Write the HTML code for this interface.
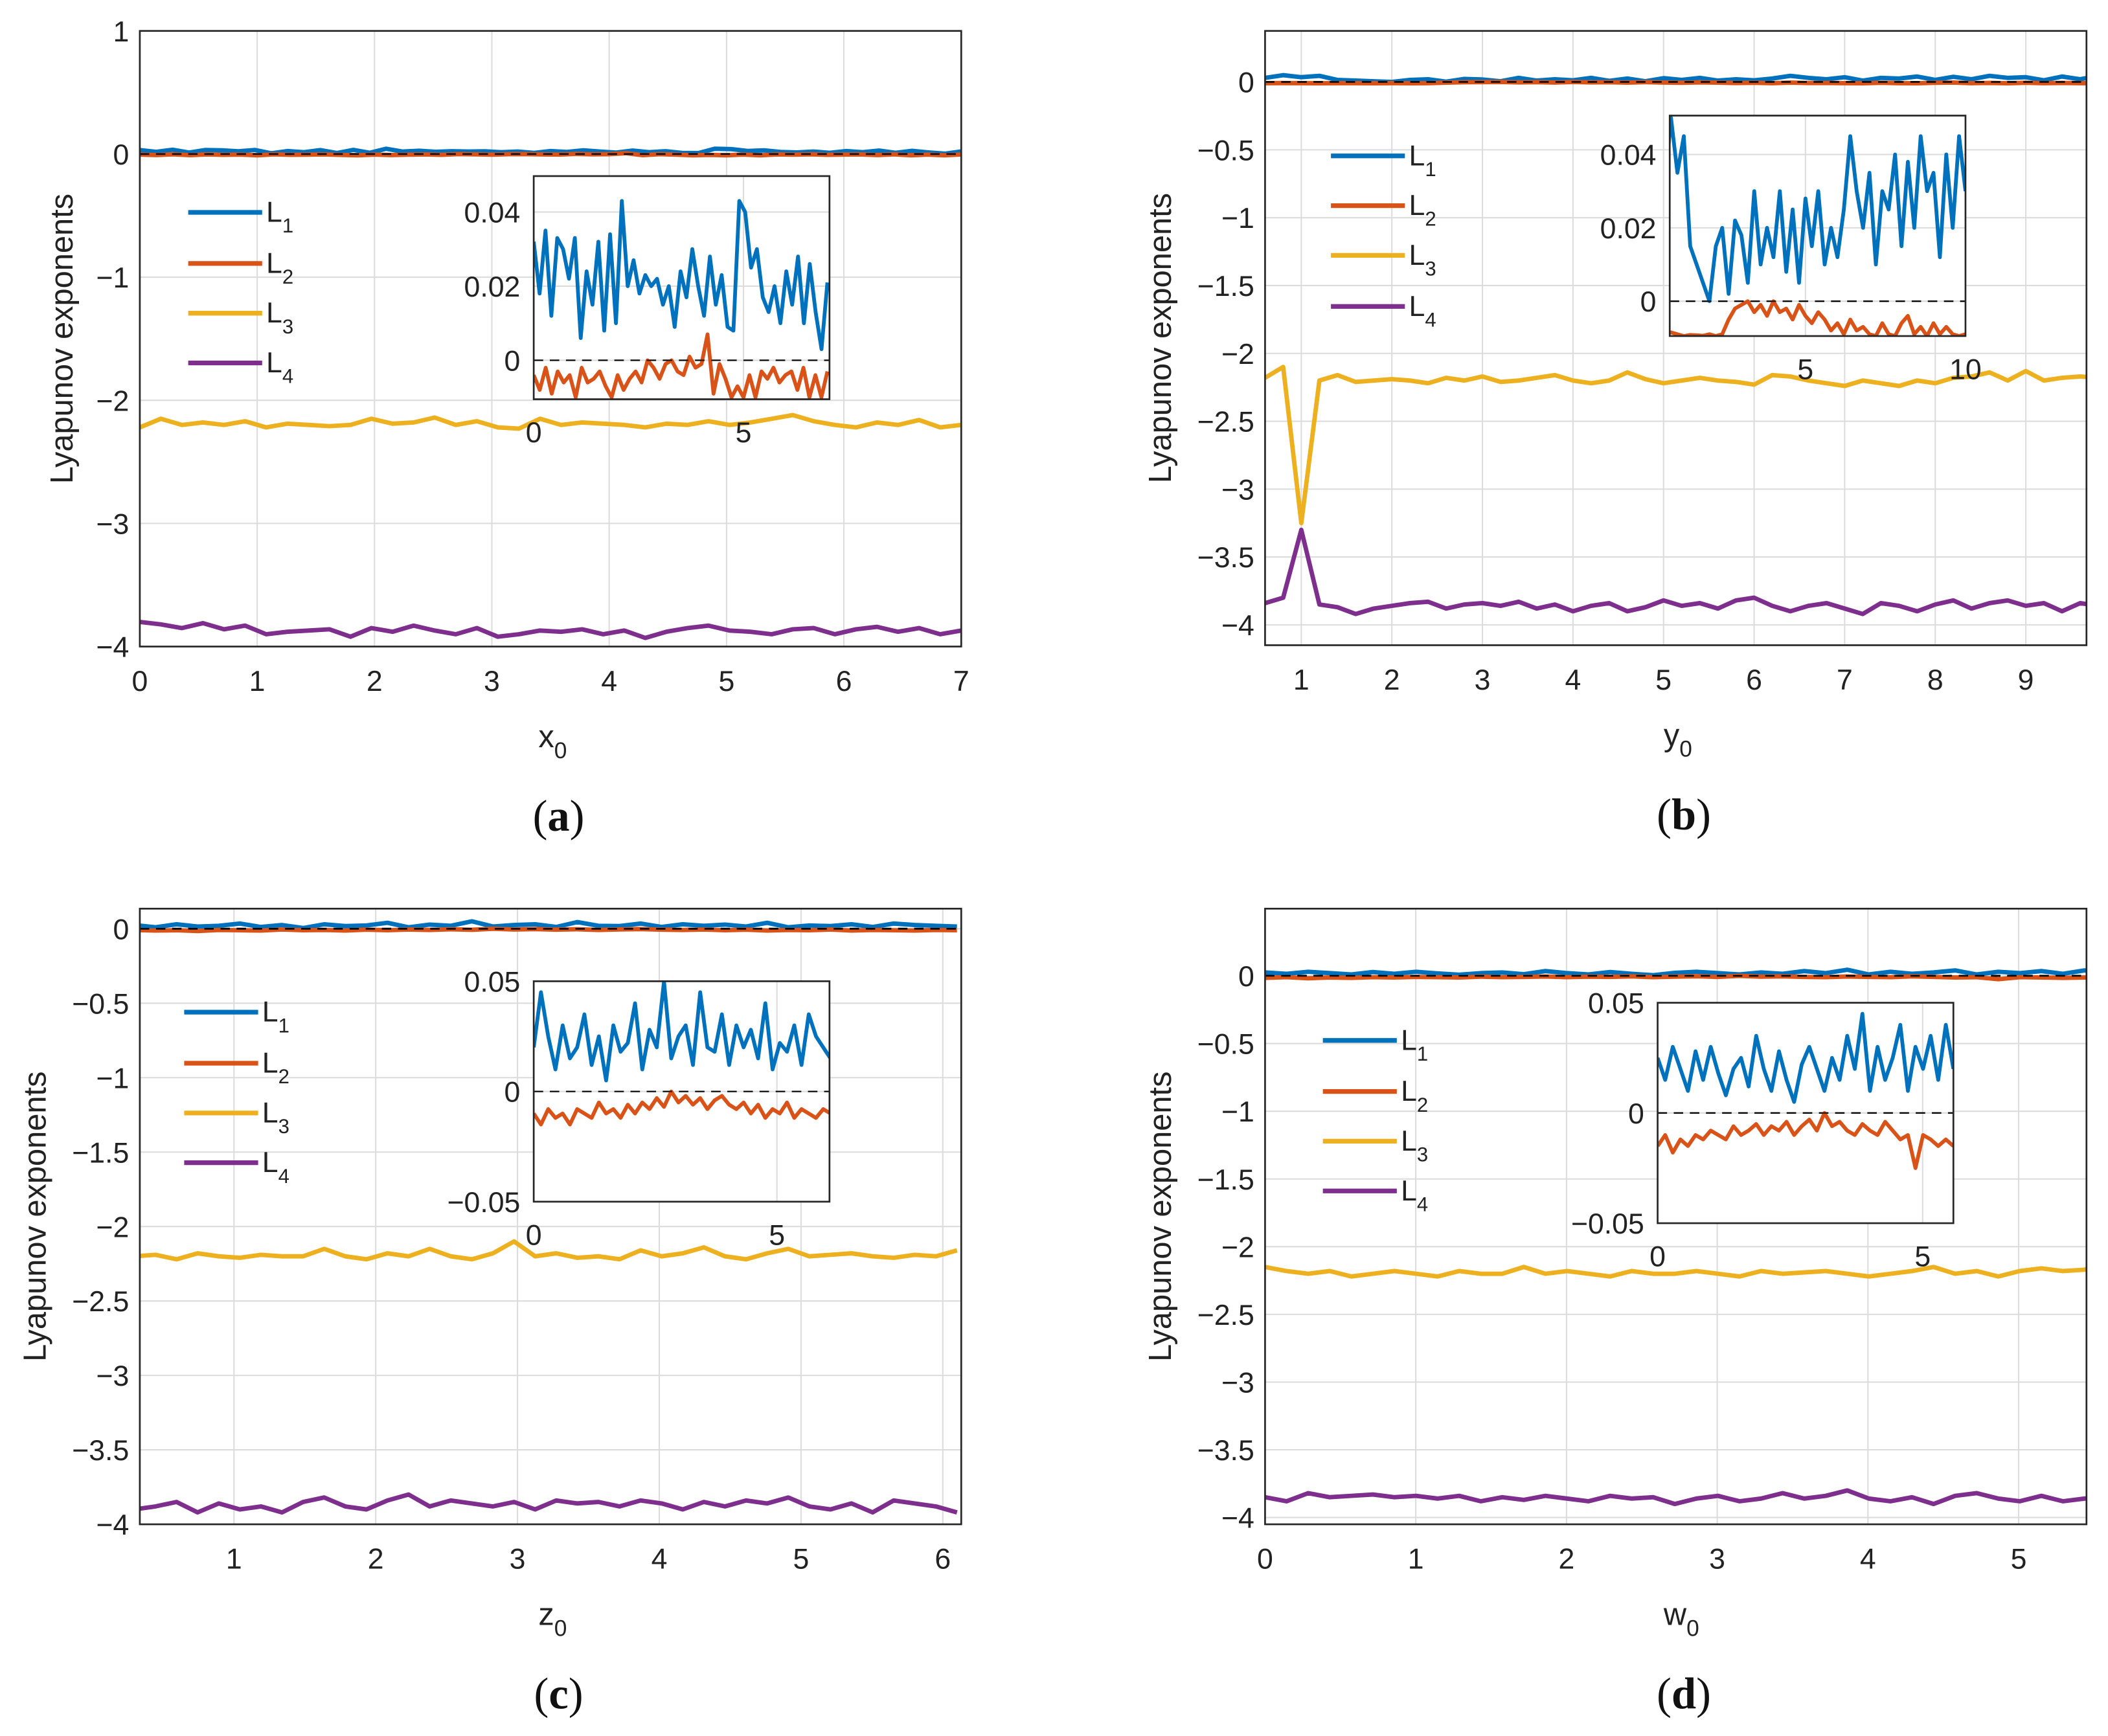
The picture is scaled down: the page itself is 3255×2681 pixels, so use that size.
<!DOCTYPE html>
<html><head><meta charset="utf-8"><style>
html,body{margin:0;padding:0;background:#fff;}
svg{display:block;font-family:"Liberation Sans",Arial,sans-serif;}
</style></head><body>
<svg id="fig" xmlns="http://www.w3.org/2000/svg" width="3255" height="2681" viewBox="0 0 1568 1291.5"></svg>
<script>
// ---------- data ----------
const seriesNames = ["L1","L2","L3","L4"];
const colors = ["#0072BD","#D95319","#EDB120","#7E2F8E"];

// panel (a): x0 from 0 to 7
const a_xRange = [0, 7];
const a_L1 = [0.032,0.018,0.035,0.012,0.033,0.03,0.022,0.033,0.006,0.024,0.015,0.032,0.008,0.034,0.01,0.043,0.02,0.027,0.018,0.023,0.02,0.022,0.015,0.02,0.009,0.024,0.017,0.03,0.02,0.012,0.028,0.015,0.023,0.009,0.008,0.043,0.04,0.025,0.03,0.017,0.013,0.02,0.01,0.024,0.015,0.028,0.01,0.026,0.013,0.003,0.021];
const a_L2 = [-0.004,-0.008,-0.002,-0.009,-0.003,-0.006,-0.004,-0.01,-0.002,-0.006,-0.005,-0.003,-0.007,-0.01,-0.004,-0.008,-0.005,-0.003,-0.006,0.0,-0.002,-0.005,-0.001,0.0,-0.003,-0.004,0.001,-0.002,-0.001,0.007,-0.009,-0.001,-0.005,-0.01,-0.007,-0.01,-0.004,-0.01,-0.003,-0.005,-0.002,-0.006,-0.004,-0.003,-0.008,-0.002,-0.01,-0.004,-0.01,-0.003];
const a_L3 = [-2.22,-2.15,-2.2,-2.18,-2.2,-2.17,-2.22,-2.19,-2.2,-2.21,-2.2,-2.15,-2.19,-2.18,-2.14,-2.2,-2.17,-2.22,-2.23,-2.15,-2.2,-2.18,-2.19,-2.2,-2.22,-2.19,-2.2,-2.17,-2.2,-2.18,-2.15,-2.12,-2.17,-2.2,-2.22,-2.18,-2.2,-2.16,-2.22,-2.2];
const a_L4 = [-3.8,-3.82,-3.85,-3.81,-3.86,-3.83,-3.9,-3.88,-3.87,-3.86,-3.92,-3.85,-3.88,-3.83,-3.87,-3.9,-3.85,-3.92,-3.9,-3.87,-3.88,-3.86,-3.9,-3.87,-3.93,-3.88,-3.85,-3.83,-3.87,-3.88,-3.9,-3.86,-3.85,-3.9,-3.86,-3.84,-3.88,-3.85,-3.9,-3.87];

// panel (b): y0 from 0.6 to 10
const b_xRange = [0.6, 10];
const b_L1 = [0.03,0.05,0.035,0.045,0.015,0.01,0.005,0.0,0.015,0.02,0.002,0.022,0.018,0.005,0.03,0.01,0.02,0.012,0.03,0.008,0.025,0.005,0.028,0.015,0.03,0.01,0.02,0.012,0.025,0.045,0.03,0.02,0.035,0.01,0.03,0.025,0.04,0.015,0.038,0.02,0.045,0.03,0.035,0.012,0.04,0.02,0.045,0.03];
const b_L2 = [-0.009,-0.0085,-0.009,-0.0095,-0.0092,-0.0093,-0.0094,-0.009,-0.0095,-0.009,-0.005,-0.002,-0.001,0.0,-0.003,-0.001,-0.004,0.0,-0.003,-0.002,-0.005,-0.001,-0.004,-0.006,-0.003,-0.005,-0.008,-0.006,-0.009,-0.005,-0.008,-0.007,-0.009,-0.0095,-0.006,-0.009,-0.0095,-0.006,-0.004,-0.009,-0.007,-0.0095,-0.006,-0.009,-0.007,-0.009,-0.0095,-0.009];
const b_L3 = [-2.18,-2.1,-3.25,-2.2,-2.16,-2.21,-2.2,-2.19,-2.2,-2.22,-2.18,-2.2,-2.17,-2.21,-2.2,-2.18,-2.16,-2.2,-2.22,-2.2,-2.14,-2.19,-2.22,-2.2,-2.18,-2.2,-2.21,-2.23,-2.16,-2.17,-2.2,-2.22,-2.24,-2.2,-2.22,-2.24,-2.2,-2.22,-2.18,-2.17,-2.14,-2.2,-2.13,-2.2,-2.18,-2.17,-2.18,-2.18];
const b_L4 = [-3.84,-3.8,-3.3,-3.85,-3.87,-3.92,-3.88,-3.86,-3.84,-3.83,-3.88,-3.85,-3.84,-3.86,-3.83,-3.88,-3.85,-3.9,-3.86,-3.84,-3.9,-3.87,-3.82,-3.86,-3.84,-3.88,-3.82,-3.8,-3.86,-3.9,-3.86,-3.84,-3.88,-3.92,-3.84,-3.86,-3.9,-3.85,-3.82,-3.88,-3.84,-3.82,-3.86,-3.84,-3.9,-3.84,-3.86,-3.83];

// panel (c): z0 from 0 to 6.1
const c_xRange = [0, 6.1];
const c_L1 = [0.02,0.045,0.025,0.01,0.03,0.015,0.02,0.035,0.012,0.025,0.005,0.03,0.018,0.022,0.04,0.01,0.028,0.02,0.05,0.015,0.025,0.03,0.012,0.045,0.02,0.018,0.035,0.012,0.03,0.02,0.028,0.015,0.04,0.01,0.022,0.018,0.03,0.012,0.035,0.025,0.02,0.015];
const c_L2 = [-0.01,-0.015,-0.008,-0.012,-0.01,-0.015,-0.008,-0.01,-0.012,-0.005,-0.01,-0.008,-0.012,-0.006,-0.01,-0.005,-0.008,-0.003,-0.007,0.0,-0.005,-0.002,-0.006,-0.003,-0.008,-0.004,-0.002,-0.006,-0.008,-0.005,-0.01,-0.006,-0.012,-0.008,-0.01,-0.005,-0.012,-0.008,-0.01,-0.012,-0.008,-0.01];
const c_L3 = [-2.2,-2.18,-2.2,-2.19,-2.22,-2.18,-2.2,-2.21,-2.19,-2.2,-2.2,-2.15,-2.2,-2.22,-2.18,-2.2,-2.15,-2.2,-2.22,-2.18,-2.1,-2.2,-2.18,-2.21,-2.2,-2.22,-2.16,-2.2,-2.18,-2.14,-2.2,-2.22,-2.18,-2.15,-2.2,-2.19,-2.18,-2.2,-2.21,-2.19,-2.2,-2.16];
const c_L4 = [-3.9,-3.88,-3.9,-3.88,-3.85,-3.92,-3.86,-3.9,-3.88,-3.92,-3.85,-3.82,-3.88,-3.9,-3.84,-3.8,-3.88,-3.84,-3.86,-3.88,-3.85,-3.9,-3.84,-3.86,-3.85,-3.88,-3.84,-3.86,-3.9,-3.85,-3.88,-3.84,-3.86,-3.82,-3.88,-3.9,-3.86,-3.92,-3.84,-3.86,-3.88,-3.92];

// panel (d): w0 from 0 to 5.58
const d_xRange = [0, 5.58];
const d_L1 = [0.025,0.015,0.03,0.02,0.01,0.028,0.015,0.03,0.018,0.008,0.02,0.025,0.012,0.035,0.02,0.01,0.028,0.015,0.005,0.022,0.03,0.02,0.01,0.025,0.015,0.035,0.02,0.045,0.01,0.03,0.015,0.025,0.04,0.01,0.03,0.02,0.035,0.015,0.04,0.02];
const d_L2 = [-0.015,-0.01,-0.018,-0.012,-0.015,-0.01,-0.012,-0.008,-0.01,-0.012,-0.006,-0.01,-0.008,-0.005,-0.01,-0.006,-0.008,-0.004,-0.01,-0.006,-0.003,-0.008,0.0,-0.006,-0.004,-0.008,-0.01,-0.005,-0.008,-0.01,-0.004,-0.008,-0.012,-0.01,-0.025,-0.01,-0.012,-0.015,-0.012,-0.015];
const d_L3 = [-2.15,-2.18,-2.2,-2.18,-2.22,-2.2,-2.18,-2.2,-2.22,-2.18,-2.2,-2.2,-2.15,-2.2,-2.18,-2.2,-2.22,-2.18,-2.2,-2.2,-2.18,-2.2,-2.22,-2.18,-2.2,-2.19,-2.18,-2.2,-2.22,-2.2,-2.18,-2.15,-2.2,-2.18,-2.22,-2.18,-2.16,-2.18,-2.17,-2.12];
const d_L4 = [-3.85,-3.88,-3.82,-3.85,-3.84,-3.83,-3.85,-3.84,-3.86,-3.84,-3.88,-3.85,-3.87,-3.84,-3.86,-3.88,-3.84,-3.86,-3.85,-3.9,-3.86,-3.84,-3.88,-3.86,-3.82,-3.86,-3.84,-3.8,-3.86,-3.88,-3.85,-3.9,-3.84,-3.82,-3.86,-3.88,-3.84,-3.88,-3.86,-3.86];

// tick labels
const a_xTicks = [0,1,2,3,4,5,6,7];
const a_yTicks = [1,0,-1,-2,-3,-4];
const b_xTicks = [1,2,3,4,5,6,7,8,9];
const b_yTicks = [0,-0.5,-1,-1.5,-2,-2.5,-3,-3.5,-4];
const c_xTicks = [1,2,3,4,5,6];
const c_yTicks = [0,-0.5,-1,-1.5,-2,-2.5,-3,-3.5,-4];
const d_xTicks = [0,1,2,3,4,5];
const d_yTicks = [0,-0.5,-1,-1.5,-2,-2.5,-3,-3.5,-4];
const a_inXTicks = [0,5];
const a_inYTicks = [0,0.02,0.04];
const b_inXTicks = [5,10];
const b_inYTicks = [0,0.02,0.04];
const c_inXTicks = [0,5];
const c_inYTicks = [-0.05,0,0.05];
const d_inXTicks = [0,5];
const d_inYTicks = [-0.05,0,0.05];

// ---------- drawing ----------
const NS = "http://www.w3.org/2000/svg";
const svg = document.getElementById("fig");
const defs = document.createElementNS(NS,"defs");
svg.appendChild(defs);
let clipId = 0;
function el(tag, attrs, parent){
  const e = document.createElementNS(NS, tag);
  for (const k in attrs) e.setAttribute(k, attrs[k]);
  (parent||svg).appendChild(e);
  return e;
}
function fmt(v){ return (v<0 ? "\u2212" : "") + String(Math.abs(v)); }
function makeClip(b){
  const id = "clip"+(clipId++);
  const cp = el("clipPath",{id:id},defs);
  el("rect",{x:b.x0,y:b.y0,width:b.x1-b.x0,height:b.y1-b.y0},cp);
  return id;
}
function linePath(data, xr, sx, sy){
  const n = data.length;
  let d = "";
  data.forEach((v,i)=>{
    const xv = xr[0] + (xr[1]-xr[0])*i/(n-1);
    d += (i?"L":"M") + sx(xv).toFixed(2) + "," + sy(v).toFixed(2);
  });
  return d;
}
function axes(g, b, xlim, ylim, xt, yt, fs, labelOffX, labelOffY, name){
  const sx = v => b.x0 + (v-xlim[0])/(xlim[1]-xlim[0])*(b.x1-b.x0);
  const sy = v => b.y1 - (v-ylim[0])/(ylim[1]-ylim[0])*(b.y1-b.y0);
  el("rect",{x:b.x0,y:b.y0,width:b.x1-b.x0,height:b.y1-b.y0,fill:"#fff"},g);
  const grid = el("g",{stroke:"#dcdcdc","stroke-width":1},g);
  
  
  xt.forEach(v=>{ const x=sx(v); if(x>b.x0+0.5&&x<b.x1-0.5) el("line",{x1:x,x2:x,y1:b.y0,y2:b.y1},grid);});
  yt.forEach(v=>{ const y=sy(v); if(y>b.y0+0.5&&y<b.y1-0.5) el("line",{x1:b.x0,x2:b.x1,y1:y,y2:y},grid);});
  const xl = el("g",{"font-size":fs,fill:"#222","text-anchor":"middle"},g);
  
  
  xt.forEach(v=>{ const t=el("text",{x:sx(v),y:b.y1+labelOffX},xl); t.textContent=fmt(v); });
  const yl = el("g",{"font-size":fs,fill:"#222","text-anchor":"end"},g);
  
  
  yt.forEach(v=>{ const t=el("text",{x:b.x0-labelOffY,y:sy(v)+fs*0.36},yl); t.textContent=fmt(v); });
  return {sx, sy};
}
function panel(p){
  const g = el("g",{});
  
  
  const b = p.box;
  const {sx, sy} = axes(g, b, p.xlim, p.ylim, p.xt, p.yt, 21.5, 33, 8, 'panel-'+p.tag);
  const clip = makeClip(b);
  const lines = el("g",{"clip-path":"url(#"+clip+")",fill:"none","stroke-linejoin":"round"},g);
  el("line",{x1:b.x0,x2:b.x1,y1:sy(0),y2:sy(0),stroke:"#000","stroke-width":1.5,"stroke-dasharray":"7,5"},lines);
  p.series.forEach((s,i)=>{
    const path = el("path",{d:linePath(s,p.xRange,sx,sy),stroke:colors[i],"stroke-width":3.3},lines);
    
    
  });
  el("line",{x1:b.x0,x2:b.x1,y1:sy(0),y2:sy(0),stroke:"#000","stroke-width":1.2,"stroke-dasharray":"7,5"},lines);
  const frame = el("rect",{x:b.x0,y:b.y0,width:b.x1-b.x0,height:b.y1-b.y0,fill:"none",stroke:"#262626","stroke-width":1.3},g);
  
  
  // legend
  const lg = el("g",{},g);
  
  
  p.legY.forEach((y,i)=>{
    const e = el("g",{},lg);
    
    
    el("line",{x1:p.legX,x2:p.legX+55,y1:y,y2:y,stroke:colors[i],"stroke-width":3.5},e);
    const t = el("text",{x:p.legX+58,y:y+7,"font-size":21.5,fill:"#222"},e);
    t.appendChild(document.createTextNode("L"));
    const sub = el("tspan",{dy:8,"font-size":15},t);
    sub.textContent = String(i+1);
  });
  // inset
  const ig = el("g",{},g);
  
  
  const ib = p.inBox;
  const ia = axes(ig, ib, p.inXlim, p.inYlim, p.inXt, p.inYt, 21.5, 32, 10, 'panel-'+p.tag+'-inset');
  const ic = makeClip(ib);
  const il = el("g",{"clip-path":"url(#"+ic+")",fill:"none","stroke-linejoin":"round"},ig);
  el("line",{x1:ib.x0,x2:ib.x1,y1:ia.sy(0),y2:ia.sy(0),stroke:"#000","stroke-width":1,"stroke-dasharray":"7,5"},il);
  [0,1].forEach(i=>{
    const path = el("path",{d:linePath(p.series[i],p.xRange,ia.sx,ia.sy),stroke:colors[i],"stroke-width":2.8},il);
    
    
  });
  el("line",{x1:ib.x0,x2:ib.x1,y1:ia.sy(0),y2:ia.sy(0),stroke:"#000","stroke-width":1,"stroke-dasharray":"7,5","opacity":0.8},il);
  el("rect",{x:ib.x0,y:ib.y0,width:ib.x1-ib.x0,height:ib.y1-ib.y0,fill:"none",stroke:"#262626","stroke-width":1.3},ig);
  // labels
  const yl = el("text",{x:0,y:0,"font-size":23.5,fill:"#222","text-anchor":"middle",transform:"translate("+p.ylabX+","+((b.y0+b.y1)/2)+") rotate(-90)"},g);
  
  
  yl.textContent = "Lyapunov exponents";
  const xl = el("text",{x:(b.x0+b.x1)/2-9,y:b.y1+75,"font-size":23.5,fill:"#222"},g);
  
  
  xl.appendChild(document.createTextNode(p.xVar));
  const xs = el("tspan",{dy:8,"font-size":17},xl); xs.textContent="0";
  const cap = el("text",{x:(b.x0+b.x1)/2+6,y:b.y1+137,"font-size":33,"font-family":"Liberation Serif, serif","text-anchor":"middle",fill:"#111"},g);
  
  
  cap.appendChild(document.createTextNode("("));
  const bb = el("tspan",{"font-weight":"bold"},cap); bb.textContent=p.tag;
  cap.appendChild(document.createTextNode(")"));
}

panel({tag:"a", box:{x0:104,x1:715,y0:23,y1:481}, xlim:[0,7], ylim:[-4,1], xt:a_xTicks, yt:a_yTicks,
  xRange:a_xRange, series:[a_L1,a_L2,a_L3,a_L4], legX:140, legY:[158,196,233,270],
  inBox:{x0:397,x1:617,y0:131,y1:297}, inXlim:[0,7.05], inYlim:[-0.0105,0.0497], inXt:a_inXTicks, inYt:a_inYTicks,
  ylabX:54, xVar:"x"});
panel({tag:"b", box:{x0:941,x1:1552,y0:23,y1:480}, xlim:[0.6,9.67], ylim:[-4.15,0.376], xt:b_xTicks, yt:b_yTicks,
  xRange:b_xRange, series:[b_L1,b_L2,b_L3,b_L4], legX:990, legY:[116,153,190,228],
  inBox:{x0:1242,x1:1462,y0:86,y1:250}, inXlim:[0.76,10], inYlim:[-0.0095,0.0506], inXt:b_inXTicks, inYt:b_inYTicks,
  ylabX:871, xVar:"y"});
panel({tag:"c", box:{x0:104,x1:715,y0:676,y1:1134}, xlim:[0.336,6.13], ylim:[-4,0.135], xt:c_xTicks, yt:c_yTicks,
  xRange:c_xRange, series:[c_L1,c_L2,c_L3,c_L4], legX:137, legY:[753,791,828,865],
  inBox:{x0:397,x1:617,y0:730,y1:894}, inXlim:[0,6.08], inYlim:[-0.05,0.05], inXt:c_inXTicks, inYt:c_inYTicks,
  ylabX:34, xVar:"z"});
panel({tag:"d", box:{x0:941,x1:1552,y0:676,y1:1134}, xlim:[0,5.45], ylim:[-4.05,0.496], xt:d_xTicks, yt:d_yTicks,
  xRange:d_xRange, series:[d_L1,d_L2,d_L3,d_L4], legX:984, legY:[774,812,849,886],
  inBox:{x0:1233,x1:1453,y0:746,y1:910}, inXlim:[0,5.58], inYlim:[-0.05,0.05], inXt:d_inXTicks, inYt:d_inYTicks,
  ylabX:871, xVar:"w"});
</script>
</body></html>
